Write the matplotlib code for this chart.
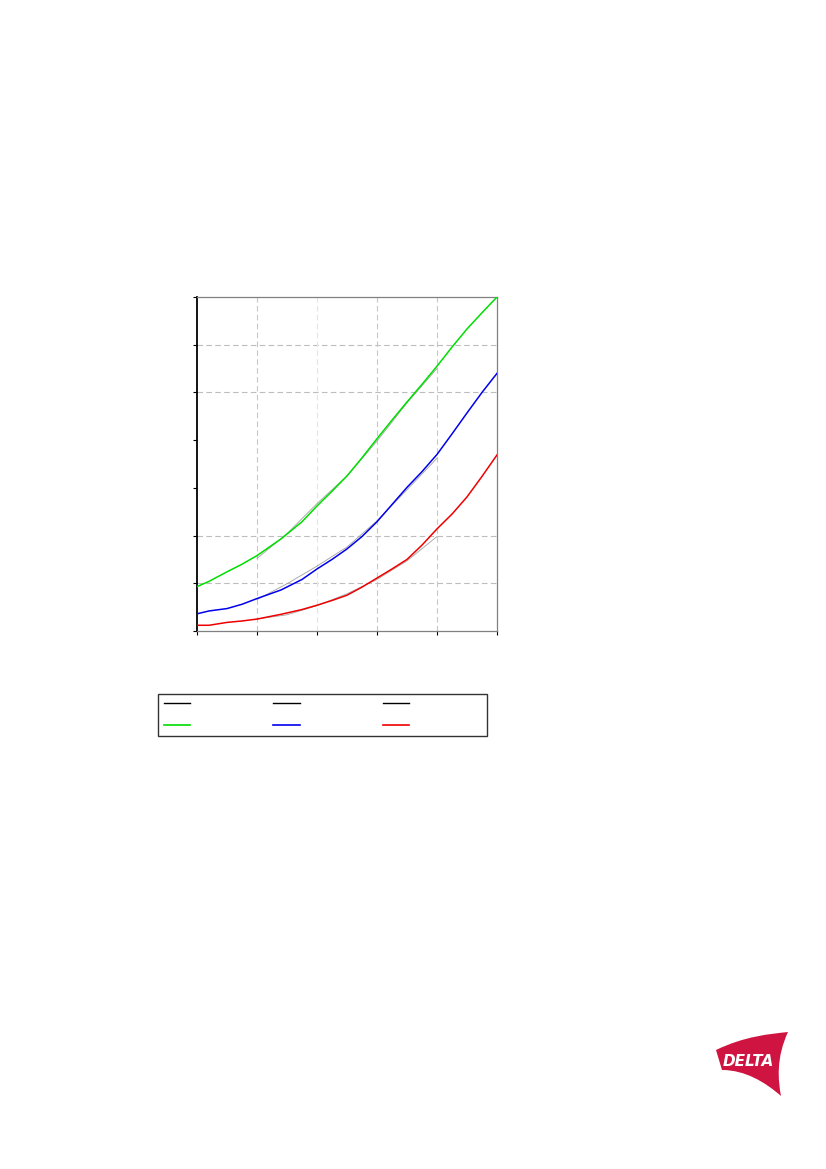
import matplotlib
matplotlib.use("Agg")
import matplotlib.pyplot as plt
from matplotlib.lines import Line2D
from matplotlib.path import Path
from matplotlib.patches import PathPatch

# measured curves
x = [0, 0.2, 0.5, 0.75, 1, 1.4, 1.75, 2, 2.25, 2.5, 2.75, 3, 3.25, 3.5, 3.75, 4, 4.25, 4.5, 4.75, 5]
green = [0.93, 1.04, 1.24, 1.40, 1.58, 1.93, 2.29, 2.62, 2.93, 3.25, 3.63, 4.03, 4.42, 4.80, 5.17, 5.55, 5.95, 6.33, 6.67, 7.0]
blue = [0.36, 0.42, 0.47, 0.56, 0.68, 0.86, 1.08, 1.30, 1.50, 1.72, 1.98, 2.29, 2.65, 3.01, 3.34, 3.70, 4.13, 4.57, 5.00, 5.40]
red = [0.12, 0.12, 0.18, 0.21, 0.25, 0.35, 0.45, 0.54, 0.64, 0.75, 0.92, 1.11, 1.30, 1.50, 1.80, 2.14, 2.45, 2.81, 3.24, 3.69]

# reference curves (thin gray)
x_ref = [1, 1.5, 2, 2.5, 3, 3.5, 4]
green_ref = [1.52, 2.04, 2.67, 3.25, 3.98, 4.78, 5.50]
blue_ref = [0.66, 0.99, 1.36, 1.76, 2.31, 2.96, 3.62]
red_ref = [0.25, 0.34, 0.53, 0.78, 1.08, 1.47, 1.98]

W, H = 826, 1169
fig = plt.figure(figsize=(W / 100, H / 100), dpi=100)

ax = fig.add_axes([197 / W, (H - 631) / H, 300 / W, 334 / H])
ax.set_xlim(0, 5)
ax.set_ylim(0, 7)
ax.set_xticks(range(6))
ax.set_yticks(range(8))
ax.set_xticklabels([])
ax.set_yticklabels([])
ax.tick_params(direction="out", length=3, width=0.8, colors="black")

# dashed grid, as in the reference
for yv in [1, 2, 5, 6]:
    ax.axhline(yv, color="#bdbdbd", lw=0.8, ls=(0, (5, 3)), zorder=0)
for xv in [1, 3, 4]:
    ax.axvline(xv, color="#c8c8c8", lw=0.8, ls=(0, (5, 3)), zorder=0)
ax.axvline(2, color="#e4e4e4", lw=0.8, ls=(0, (5, 3)), zorder=0)

for s in ["top", "right", "bottom"]:
    ax.spines[s].set_color("#808080")
    ax.spines[s].set_linewidth(0.9)
ax.spines["left"].set_color("black")
ax.spines["left"].set_linewidth(1.3)

for yr in [green_ref, blue_ref, red_ref]:
    ax.plot(x_ref, yr, color="#a0a0a0", lw=0.6, zorder=2)
ax.plot(x, green, color="#00dd00", lw=1.1, zorder=3)
ax.plot(x, blue, color="#0000ee", lw=1.1, zorder=3)
ax.plot(x, red, color="#ee0000", lw=1.1, zorder=3)

# legend, labels left blank
handles = [
    Line2D([], [], color="black", lw=1.0),
    Line2D([], [], color="#00dd00", lw=1.2),
    Line2D([], [], color="black", lw=1.0),
    Line2D([], [], color="#0000ee", lw=1.2),
    Line2D([], [], color="black", lw=1.0),
    Line2D([], [], color="#ee0000", lw=1.2),
]
leg = fig.legend(handles, [" " * 20] * 6, ncol=3, mode="expand",
                 bbox_to_anchor=(158 / W, (H - 736) / H, 329 / W, 42 / H),
                 loc="lower left", borderaxespad=0, fontsize=8,
                 handlelength=2.4, labelspacing=1.0, borderpad=0.5,
                 handletextpad=0.2, columnspacing=1.0,
                 fancybox=False, frameon=True)
leg.get_frame().set_edgecolor("black")
leg.get_frame().set_linewidth(1.0)

# logo
lg = fig.add_axes([0, 0, 1, 1], zorder=-1)
lg.set_xlim(0, W)
lg.set_ylim(H, 0)
lg.axis("off")
verts = [(716, 1050), (745, 1036), (770, 1034), (788, 1032),
         (776, 1058), (778, 1080), (781, 1096),
         (765, 1082), (745, 1070), (722, 1070),
         (716, 1050)]
codes = [Path.MOVETO, Path.CURVE4, Path.CURVE4, Path.CURVE4,
         Path.CURVE4, Path.CURVE4, Path.CURVE4,
         Path.CURVE4, Path.CURVE4, Path.CURVE4,
         Path.CLOSEPOLY]
lg.add_patch(PathPatch(Path(verts, codes), facecolor="#cf1441", edgecolor="none"))
lg.text(748, 1061, "DELTA", color="white", fontsize=11, fontweight="bold",
        fontstyle="italic", ha="center", va="center")

fig.savefig("out.png", dpi=100)
